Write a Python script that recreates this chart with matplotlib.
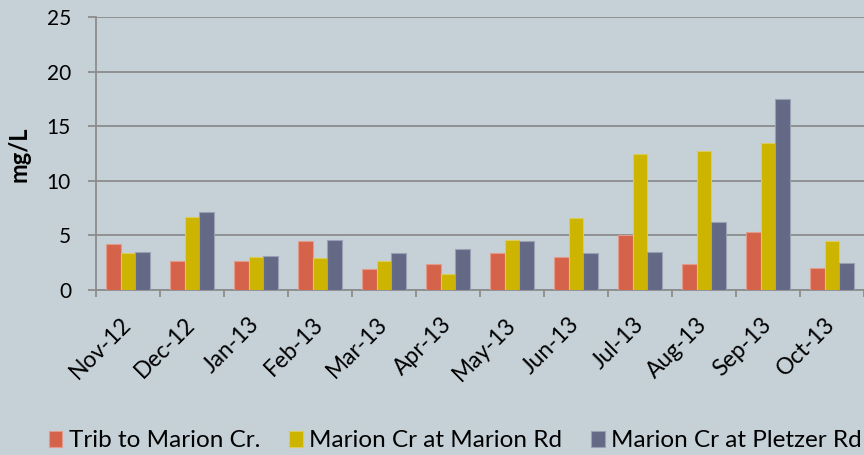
import numpy as np
import matplotlib
matplotlib.use("Agg")
from matplotlib import pyplot as plt

months = ["Nov-12", "Dec-12", "Jan-13", "Feb-13", "Mar-13", "Apr-13",
          "May-13", "Jun-13", "Jul-13", "Aug-13", "Sep-13", "Oct-13"]
trib = [4.2, 2.7, 2.7, 4.5, 1.95, 2.35, 3.35, 3.05, 5.05, 2.35, 5.35, 2.0]
marion_rd = [3.4, 6.65, 3.0, 2.95, 2.7, 1.5, 4.55, 6.55, 12.5, 12.7, 13.5, 4.45]
pletzer_rd = [3.5, 7.15, 3.15, 4.6, 3.35, 3.75, 4.45, 3.35, 3.45, 6.2, 17.5, 2.5]
series_names = ["Trib to Marion Cr.", "Marion Cr at Marion Rd", "Marion Cr at Pletzer Rd"]
colors = ["#D5634A", "#CDB400", "#646A86"]
edges = ["#E29A8A", "#DCCB5A", "#9AA0B4"]

bg = "#C6D1D7"
grey = "#8C8C8C"

plt.rcParams['font.family'] = ['Lato', 'DejaVu Sans']

fig = plt.figure(figsize=(8.64, 4.55), dpi=100, facecolor=bg)
ax = fig.add_axes([96 / 864, 1 - 290 / 455, 768 / 864, 273 / 455])
ax.set_facecolor(bg)

x = np.arange(len(months))
w = 0.227
for i, vals in enumerate([trib, marion_rd, pletzer_rd]):
    ax.bar(x + (i - 1) * w, vals, w, color=colors[i], edgecolor=edges[i],
           linewidth=0.8, label=series_names[i], zorder=3)

ax.set_xlim(-0.5, len(months) - 0.5)
ax.set_ylim(0, 25)
ax.set_yticks(range(0, 26, 5))
ax.grid(axis='y', color=grey, linewidth=1.3, zorder=0)
ax.set_axisbelow(True)

for s in ["top", "right"]:
    ax.spines[s].set_visible(False)
ax.spines["left"].set_color(grey)
ax.spines["left"].set_linewidth(1.3)
ax.spines["bottom"].set_color(grey)
ax.spines["bottom"].set_linewidth(1.3)

ax.tick_params(axis='y', direction='out', length=6, width=1.3, color=grey,
               labelsize=15, pad=12)
ax.set_xticks(x)
ax.set_xticks(np.arange(-0.5, len(months), 1.0), minor=True)
ax.tick_params(axis='x', which='major', length=0, labelsize=16.5, pad=22.5)
ax.tick_params(axis='x', which='minor', direction='out', length=5, width=1.3, color=grey)
ax.set_xticklabels(months, rotation=45, ha='right', va='center', rotation_mode='anchor',
                   fontsize=16.5)

ax.set_ylabel("mg/L", fontsize=17, fontweight='bold')
ax.yaxis.set_label_coords(-0.085, 0.497)

fig.legend(loc='center', bbox_to_anchor=(0.527, 0.031), ncol=3, frameon=False,
           fontsize=17.5, handlelength=0.55, handleheight=0.6, handletextpad=0.26,
           columnspacing=1.2)

fig.savefig("out.png", dpi=100, facecolor=bg)
